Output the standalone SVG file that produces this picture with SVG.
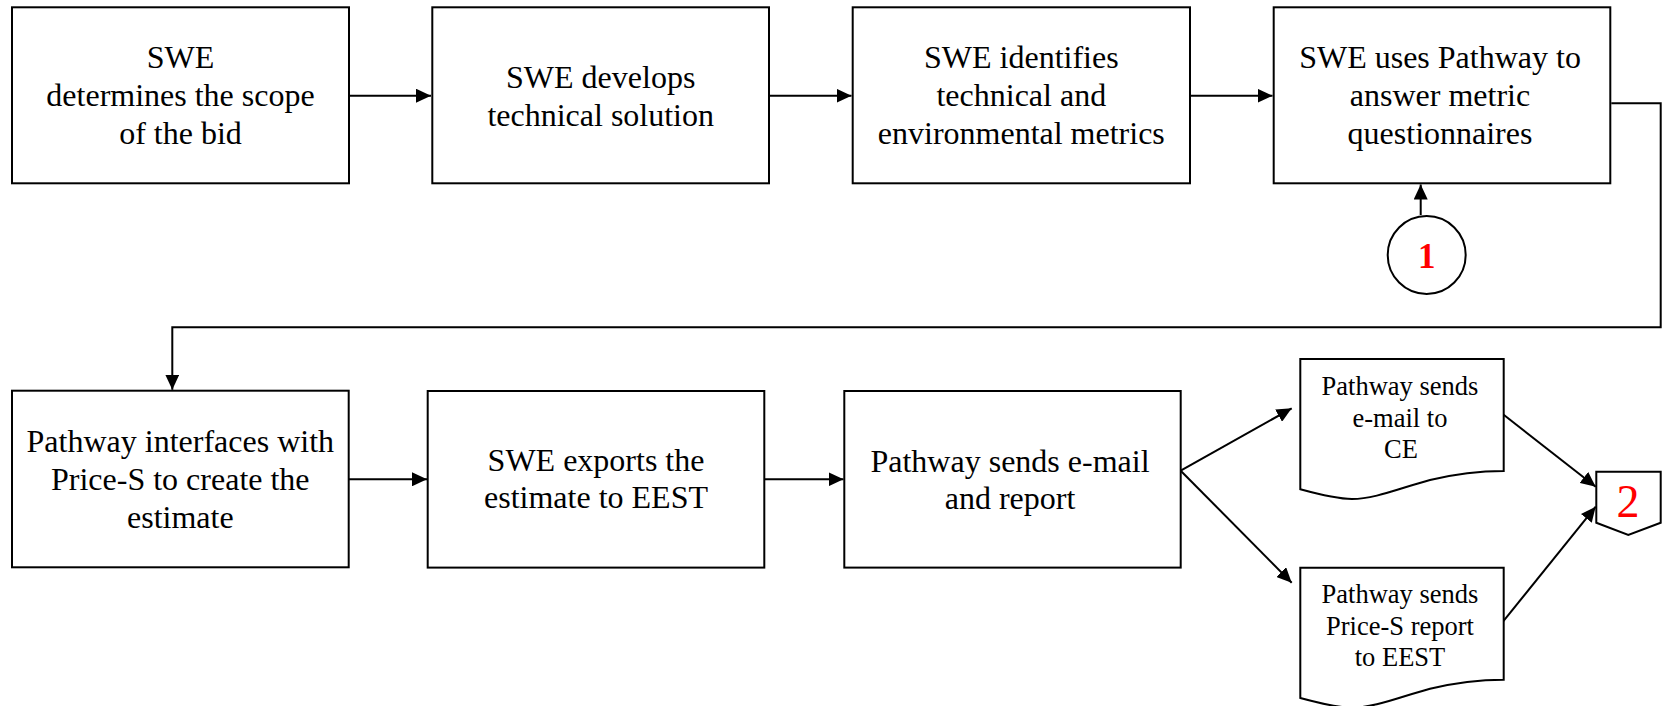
<svg xmlns="http://www.w3.org/2000/svg" width="1664" height="706" viewBox="0 0 1664 706">
<style>
.box{fill:#fff;stroke:#000;stroke-width:2}
.t{font-family:"Liberation Serif","Times New Roman",serif;font-size:32px;fill:#000;text-anchor:middle}
.ts{font-family:"Liberation Serif","Times New Roman",serif;font-size:26.5px;fill:#000;text-anchor:middle}
.ln{fill:none;stroke:#000;stroke-width:2}
</style>
<defs>
<marker id="ah" markerUnits="userSpaceOnUse" markerWidth="16" markerHeight="14" refX="15" refY="7" orient="auto">
<path d="M0,0 L15,7 L0,14 Z" fill="#000"/>
</marker>
</defs>
<rect width="1664" height="706" fill="#fff"/>
<g id="connectors">
<line class="ln" x1="349" y1="95.7" x2="431" y2="95.7" marker-end="url(#ah)"/>
<line class="ln" x1="769" y1="95.7" x2="851.5" y2="95.7" marker-end="url(#ah)"/>
<line class="ln" x1="1190" y1="95.7" x2="1272.5" y2="95.7" marker-end="url(#ah)"/>
<line class="ln" x1="1420.7" y1="215" x2="1420.7" y2="184.5" marker-end="url(#ah)"/>
<polyline class="ln" points="1611.3,103.3 1660.7,103.3 1660.7,327.3 172.3,327.3 172.3,389.7" marker-end="url(#ah)"/>
<line class="ln" x1="348.7" y1="479.3" x2="427" y2="479.3" marker-end="url(#ah)"/>
<line class="ln" x1="764.3" y1="479.3" x2="843.5" y2="479.3" marker-end="url(#ah)"/>
<line class="ln" x1="1180.7" y1="470.7" x2="1291.7" y2="408.3" marker-end="url(#ah)"/>
<line class="ln" x1="1180.7" y1="470.7" x2="1291.7" y2="582.7" marker-end="url(#ah)"/>
<line class="ln" x1="1502.7" y1="414" x2="1595.7" y2="486.7" marker-end="url(#ah)"/>
<line class="ln" x1="1503" y1="621.7" x2="1595.7" y2="506.7" marker-end="url(#ah)"/>
</g>
<g id="n1">
<rect class="box" x="12" y="7.3" width="337" height="176"/>
<text class="t" x="180.5" y="68.3">SWE</text>
<text class="t" x="180.5" y="106">determines the scope</text>
<text class="t" x="180.5" y="144">of the bid</text>
</g>
<g id="n2">
<rect class="box" x="432.3" y="7.3" width="336.7" height="176"/>
<text class="t" x="600.7" y="88.3">SWE develops</text>
<text class="t" x="600.7" y="126">technical solution</text>
</g>
<g id="n3">
<rect class="box" x="852.7" y="7.3" width="337.3" height="176"/>
<text class="t" x="1021.3" y="68.3">SWE identifies</text>
<text class="t" x="1021.3" y="106">technical and</text>
<text class="t" x="1021.3" y="144">environmental metrics</text>
</g>
<g id="n4">
<rect class="box" x="1273.7" y="7.3" width="336.6" height="176"/>
<text class="t" x="1440" y="68.3">SWE uses Pathway to</text>
<text class="t" x="1440" y="106">answer metric</text>
<text class="t" x="1440" y="144">questionnaires</text>
</g>
<g id="c1">
<circle cx="1426.7" cy="255" r="39" fill="#fff" stroke="#000" stroke-width="2"/>
<text x="1426.7" y="268.3" font-family="'Liberation Serif','Times New Roman',serif" font-size="35" font-weight="bold" fill="#f00" text-anchor="middle">1</text>
</g>
<g id="n5">
<rect class="box" x="12" y="390.7" width="336.7" height="176.6"/>
<text class="t" x="180.3" y="451.7">Pathway interfaces with</text>
<text class="t" x="180.3" y="490">Price-S to create the</text>
<text class="t" x="180.3" y="527.7">estimate</text>
</g>
<g id="n6">
<rect class="box" x="427.7" y="391" width="336.6" height="176.6"/>
<text class="t" x="596" y="470.7">SWE exports the</text>
<text class="t" x="596" y="508.3">estimate to EEST</text>
</g>
<g id="n7">
<rect class="box" x="844.3" y="391" width="336.4" height="176.6"/>
<text class="t" x="1010" y="471.7">Pathway sends e-mail</text>
<text class="t" x="1010" y="509.3">and report</text>
</g>
<g id="d1">
<path class="box" d="M1300.3,359 H1503.7 V471 C1475,471 1455,474 1430,480 C1400,488 1375,499 1352,499 C1340,499 1325,496 1300.3,489.3 Z"/>
<text class="ts" x="1400" y="395">Pathway sends</text>
<text class="ts" x="1400" y="426.7">e-mail to</text>
<text class="ts" x="1401" y="458.3">CE</text>
</g>
<g id="d2">
<path class="box" d="M1300.3,567.7 H1503.7 V679.7 C1475,679.7 1455,682.7 1430,688.7 C1400,696.7 1375,707.7 1352,707.7 C1340,707.7 1325,704.7 1300.3,698 Z"/>
<text class="ts" x="1400" y="603.3">Pathway sends</text>
<text class="ts" x="1400" y="635">Price-S report</text>
<text class="ts" x="1400" y="666">to EEST</text>
</g>
<g id="c2">
<path class="box" d="M1596.3,471.7 H1660.7 V522.7 L1628.3,535 L1596.3,522.7 Z"/>
<text x="1628" y="516.7" font-family="'Liberation Serif','Times New Roman',serif" font-size="46" fill="#f00" text-anchor="middle">2</text>
</g>
</svg>
